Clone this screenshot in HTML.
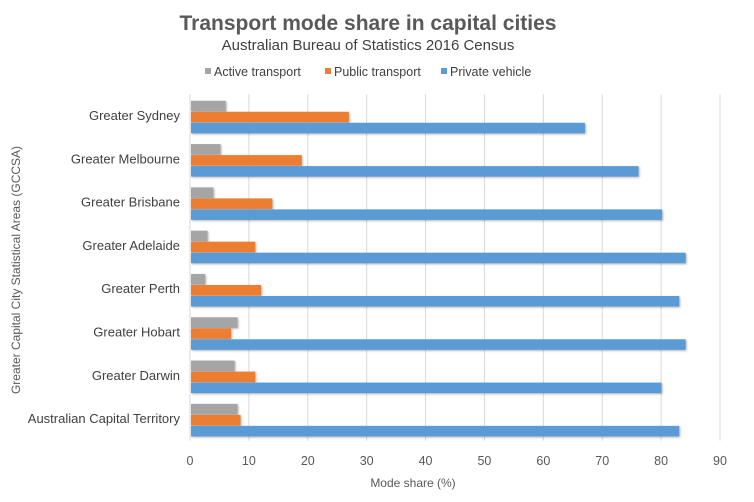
<!DOCTYPE html>
<html><head><meta charset="utf-8"><style>
body{margin:0;background:#fff;width:754px;height:497px;overflow:hidden;font-family:"Liberation Sans",sans-serif}
</style></head><body>
<svg id="chart" width="754" height="497" font-family="Liberation Sans, sans-serif">
<text x="368" y="30" text-anchor="middle" font-size="21" font-weight="bold" fill="#595959">Transport mode share in capital cities</text>
<text x="368" y="50" text-anchor="middle" font-size="15" fill="#404040">Australian Bureau of Statistics 2016 Census</text>
<g id="legend"></g>
<g id="grid"></g><g id="bars"></g><g id="labels"></g>
<text x="413" y="487" text-anchor="middle" font-size="12" fill="#595959">Mode share (%)</text>
<text transform="translate(20,270) rotate(-90)" text-anchor="middle" font-size="12" fill="#595959">Greater Capital City Statistical Areas (GCCSA)</text>
</svg>
<script>
const categories=["Greater Sydney","Greater Melbourne","Greater Brisbane","Greater Adelaide","Greater Perth","Greater Hobart","Greater Darwin","Australian Capital Territory"];
const activeValues=[5.9,5.0,3.8,2.8,2.4,7.9,7.4,7.9];
const publicValues=[26.8,18.8,13.8,10.9,11.9,6.8,10.9,8.4];
const privateValues=[66.9,76.0,80.0,84.0,82.9,84.0,79.9,82.9];
const xTicks=[0,10,20,30,40,50,60,70,80,90];
const seriesNames=["Active transport","Public transport","Private vehicle"];
const NS="http://www.w3.org/2000/svg";
const colors=["#a5a5a5","#ed7d31","#5b9bd5"];
const x0=190,x1=720,plotTop=94.3,plotBottom=440.7;
const xs=v=>x0+(v-0)/(90-0)*(x1-x0);
const band=(plotBottom-plotTop)/categories.length;
const ys=i=>plotTop+i*band;
function mk(tag,attrs,parent){const e=document.createElementNS(NS,tag);for(const k in attrs)e.setAttribute(k,attrs[k]);document.getElementById(parent).appendChild(e);return e;}
xTicks.forEach(t=>{
 const l=mk("line",{x1:xs(t),x2:xs(t),y1:plotTop,y2:plotBottom,stroke:"#d9d9d9","stroke-width":1},"grid");
 
 
 const tx=mk("text",{x:xs(t),y:465,"text-anchor":"middle","font-size":12.5,fill:"#595959"},"labels");
 tx.textContent=t;
 
 
});
const series=[activeValues,publicValues,privateValues];
categories.forEach((c,i)=>{
 const tx=mk("text",{x:180,y:ys(i)+band/2+4,"text-anchor":"end","font-size":13,fill:"#404040"},"labels");
 tx.textContent=c;
 
 
 series.forEach((s,k)=>{
  const y=ys(i)+6.5+k*11;
  const r=mk("rect",{x:xs(0)+1,y:y,width:xs(s[i])-xs(0),height:10.5,fill:colors[k],style:"filter:drop-shadow(1px 1px 1px rgba(0,0,0,0.3))"},"bars");
  
  
 });
});
const lx=[205,325,441];
seriesNames.forEach((n,k)=>{
 const r=mk("rect",{x:lx[k],y:68,width:6,height:6,fill:colors[k]},"legend");
 
 
 const t=mk("text",{x:lx[k]+9,y:76,"font-size":12.5,fill:"#404040"},"legend");
 t.textContent=n;
 
 
});
</script>
</body></html>
